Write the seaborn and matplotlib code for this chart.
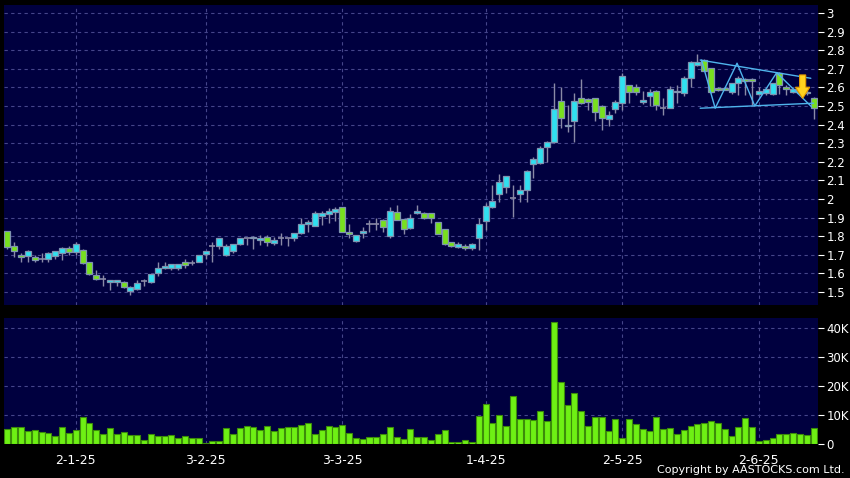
"""
daily candlestick chart with volume panel, AASTOCKS style
"""

import matplotlib
matplotlib.use("Agg")
import matplotlib.pyplot as plt
from matplotlib.patches import FancyArrow
import seaborn as sns
import pandas as pd

# daily prices, one value per trading day (mid Dec 2024 to mid Jun 2025)
open_prices = [
    1.828, 1.747, 1.697, 1.694, 1.687, 1.676, 1.676, 1.695, 1.708, 1.735,
    1.717, 1.726, 1.660, 1.590, 1.568, 1.554, 1.556, 1.555, 1.506, 1.514,
    1.559, 1.555, 1.604, 1.627, 1.627, 1.627, 1.661, 1.658, 1.663, 1.706,
    1.746, 1.747, 1.697, 1.722, 1.756, 1.789, 1.789, 1.778, 1.794, 1.765,
    1.789, 1.789, 1.789, 1.816, 1.864, 1.857, 1.910, 1.921, 1.932, 1.955,
    1.824, 1.776, 1.816, 1.866, 1.866, 1.887, 1.803, 1.932, 1.892, 1.846,
    1.923, 1.923, 1.923, 1.875, 1.837, 1.767, 1.744, 1.749, 1.735, 1.792,
    1.883, 1.955, 2.025, 2.063, 2.007, 2.025, 2.048, 2.187, 2.192, 2.281,
    2.305, 2.528, 2.390, 2.421, 2.541, 2.540, 2.541, 2.502, 2.432, 2.482,
    2.518, 2.611, 2.600, 2.520, 2.554, 2.582, 2.490, 2.491, 2.574, 2.572,
    2.649, 2.720, 2.747, 2.703, 2.597, 2.597, 2.577, 2.622, 2.644, 2.644,
    2.564, 2.568, 2.564, 2.679, 2.604, 2.574, 2.580, 2.575, 2.541,
]
high_prices = [
    1.830, 1.767, 1.711, 1.726, 1.699, 1.708, 1.713, 1.722, 1.740, 1.747,
    1.769, 1.730, 1.662, 1.618, 1.591, 1.566, 1.566, 1.557, 1.530, 1.565,
    1.570, 1.597, 1.660, 1.660, 1.652, 1.652, 1.677, 1.672, 1.699, 1.722,
    1.770, 1.792, 1.758, 1.758, 1.792, 1.792, 1.800, 1.806, 1.808, 1.794,
    1.819, 1.792, 1.818, 1.896, 1.887, 1.937, 1.935, 1.950, 1.957, 1.957,
    1.864, 1.808, 1.850, 1.888, 1.900, 1.890, 1.955, 1.968, 1.895, 1.920,
    1.968, 1.928, 1.926, 1.878, 1.840, 1.770, 1.770, 1.760, 1.765, 1.896,
    1.977, 2.075, 2.134, 2.125, 2.075, 2.075, 2.155, 2.225, 2.285, 2.310,
    2.625, 2.604, 2.505, 2.568, 2.645, 2.545, 2.545, 2.505, 2.475, 2.530,
    2.676, 2.615, 2.620, 2.583, 2.590, 2.585, 2.541, 2.605, 2.613, 2.660,
    2.740, 2.780, 2.753, 2.705, 2.600, 2.600, 2.625, 2.660, 2.648, 2.648,
    2.600, 2.598, 2.625, 2.685, 2.615, 2.598, 2.590, 2.585, 2.548,
]
low_prices = [
    1.733, 1.687, 1.663, 1.663, 1.663, 1.663, 1.663, 1.680, 1.672, 1.699,
    1.699, 1.651, 1.590, 1.565, 1.532, 1.511, 1.530, 1.522, 1.484, 1.512,
    1.532, 1.550, 1.586, 1.622, 1.620, 1.620, 1.627, 1.645, 1.660, 1.680,
    1.663, 1.730, 1.694, 1.710, 1.752, 1.750, 1.730, 1.755, 1.745, 1.753,
    1.753, 1.747, 1.774, 1.812, 1.824, 1.855, 1.860, 1.870, 1.880, 1.822,
    1.789, 1.770, 1.790, 1.820, 1.835, 1.820, 1.790, 1.885, 1.810, 1.840,
    1.920, 1.890, 1.870, 1.810, 1.750, 1.740, 1.735, 1.725, 1.725, 1.726,
    1.833, 1.950, 1.985, 2.034, 1.905, 1.985, 1.985, 2.111, 2.190, 2.200,
    2.300, 2.380, 2.362, 2.305, 2.510, 2.480, 2.420, 2.371, 2.390, 2.462,
    2.478, 2.514, 2.558, 2.511, 2.500, 2.478, 2.452, 2.488, 2.514, 2.552,
    2.604, 2.715, 2.690, 2.570, 2.580, 2.585, 2.565, 2.559, 2.560, 2.505,
    2.560, 2.560, 2.560, 2.565, 2.560, 2.570, 2.565, 2.560, 2.430,
]
close_prices = [
    1.744, 1.722, 1.687, 1.720, 1.674, 1.676, 1.708, 1.720, 1.735, 1.717,
    1.758, 1.658, 1.595, 1.568, 1.568, 1.562, 1.562, 1.528, 1.528, 1.547,
    1.559, 1.595, 1.627, 1.640, 1.649, 1.649, 1.647, 1.658, 1.697, 1.719,
    1.746, 1.790, 1.747, 1.756, 1.789, 1.789, 1.796, 1.789, 1.767, 1.780,
    1.789, 1.789, 1.816, 1.864, 1.876, 1.923, 1.923, 1.934, 1.945, 1.824,
    1.813, 1.806, 1.828, 1.866, 1.866, 1.848, 1.934, 1.887, 1.837, 1.896,
    1.935, 1.896, 1.896, 1.813, 1.756, 1.747, 1.756, 1.735, 1.760, 1.864,
    1.964, 1.991, 2.093, 2.122, 2.007, 2.048, 2.152, 2.213, 2.273, 2.305,
    2.482, 2.434, 2.400, 2.528, 2.515, 2.520, 2.469, 2.434, 2.452, 2.522,
    2.661, 2.574, 2.577, 2.532, 2.577, 2.505, 2.490, 2.590, 2.582, 2.649,
    2.738, 2.737, 2.690, 2.577, 2.586, 2.586, 2.622, 2.649, 2.633, 2.633,
    2.582, 2.591, 2.622, 2.613, 2.591, 2.590, 2.570, 2.568, 2.491,
]
# volume in thousands of shares
volume_k = [
    5.3, 5.9, 5.8, 4.6, 4.8, 4.0, 3.9, 2.6, 5.9, 3.8,
    4.9, 9.4, 7.2, 4.7, 3.3, 5.6, 3.6, 4.0, 3.2, 3.2,
    1.4, 3.6, 2.9, 2.6, 3.2, 2.0, 2.6, 1.9, 1.9, 0.5,
    1.0, 1.2, 5.4, 3.6, 5.4, 6.3, 6.0, 4.9, 6.3, 4.4,
    5.4, 6.0, 5.8, 6.7, 7.2, 3.4, 4.7, 6.2, 5.7, 6.7,
    3.8, 2.2, 1.6, 2.4, 2.4, 3.6, 5.7, 2.5, 1.8, 5.1,
    2.5, 2.4, 1.3, 3.5, 4.7, 0.6, 0.7, 1.4, 0.8, 9.6,
    13.9, 7.1, 9.9, 6.2, 16.5, 8.5, 8.5, 8.2, 11.3, 7.9,
    41.8, 21.2, 13.5, 17.4, 11.2, 6.1, 9.4, 9.4, 4.5, 8.6,
    2.0, 8.6, 6.8, 5.3, 4.5, 9.4, 5.3, 5.6, 3.5, 4.9,
    6.1, 6.8, 7.1, 7.9, 7.3, 5.3, 2.6, 5.9, 8.8, 5.9,
    1.2, 1.4, 1.9, 3.3, 3.4, 3.8, 3.5, 3.2, 5.6,
]

# month start ticks (bar index of first trading day shown)
date_tick_pos = [10, 29, 49, 70, 90, 110]
date_tick_labels = ["2-1-25", "3-2-25", "3-3-25", "1-4-25", "2-5-25", "2-6-25"]
price_ticks = [1.5, 1.6, 1.7, 1.8, 1.9, 2.0, 2.1, 2.2, 2.3, 2.4, 2.5,
               2.6, 2.7, 2.8, 2.9, 3.0]
volume_ticks = [0, 10, 20, 30, 40]

# drawn pattern lines (triangle + zigzag) near the end
upper_line_x = [101.4, 117.6]
upper_line_y = [2.747, 2.649]
lower_line_x = [101.4, 118.0]
lower_line_y = [2.488, 2.515]
zigzag_x = [101.6, 103.6, 106.8, 109.4, 112.6, 117.7]
zigzag_y = [2.747, 2.488, 2.730, 2.500, 2.679, 2.496]
arrow_x = 116.4
arrow_top = 2.667
arrow_tip = 2.541

BG = "#000000"
PANEL = "#00003f"
UP = "#30e0f0"
DOWN = "#78e01e"
EDGE = "#7f93b0"
WICK = "#8a8aa6"
GRID = "#45458a"

sns.set_style("dark", {"axes.facecolor": PANEL, "figure.facecolor": BG})
plt.rcParams["font.family"] = ["DejaVu Sans"]

df = pd.DataFrame({
    "idx": range(len(open_prices)),
    "open": open_prices, "high": high_prices,
    "low": low_prices, "close": close_prices, "vol": volume_k,
})
df["up"] = df["close"] >= df["open"]
df["doji"] = (df["close"] - df["open"]).abs() < 0.001

fig = plt.figure(figsize=(8.5, 4.78), dpi=100)
fig.patch.set_facecolor(BG)
ax = fig.add_axes([4 / 850, 1 - 305 / 478, 814 / 850, 300 / 478])
axv = fig.add_axes([4 / 850, 1 - 444 / 478, 814 / 850, 126 / 478])

for a in (ax, axv):
    a.set_facecolor(PANEL)
    for s in a.spines.values():
        s.set_visible(False)
    a.set_xlim(-0.5, 118.65)
    a.set_xticks(date_tick_pos)
    a.grid(True, axis="both", color=GRID, linestyle=(0, (3, 3)), linewidth=0.8)
    a.set_axisbelow(True)
    a.yaxis.tick_right()
    a.tick_params(axis="y", colors="white", labelsize=8.5, length=4, width=0.8,
                  direction="out", pad=2, labelcolor="white")

# candles
ax.vlines(df["idx"], df["low"], df["high"], color=WICK, linewidth=1, zorder=2)
body = df[~df["doji"]]
ax.bar(body["idx"], (body["close"] - body["open"]).abs(),
       bottom=body[["open", "close"]].min(axis=1), width=0.88,
       color=[UP if u else DOWN for u in body["up"]],
       edgecolor=EDGE, linewidth=0.9, zorder=3)
doji = df[df["doji"]]
ax.hlines(doji["close"], doji["idx"] - 0.44, doji["idx"] + 0.44,
          color=WICK, linewidth=1.2, zorder=3)

# pattern lines
for xs, ys in [(upper_line_x, upper_line_y), (lower_line_x, lower_line_y),
               (zigzag_x, zigzag_y)]:
    ax.plot(xs, ys, color="#4fb4ec", linewidth=1, zorder=4)

ax.add_patch(FancyArrow(arrow_x, arrow_top, 0, arrow_tip - arrow_top,
                        width=0.9, head_width=2.1, head_length=0.06,
                        length_includes_head=True, facecolor="#ffd21e",
                        edgecolor="#e49a00", linewidth=0.8, zorder=5))

ax.set_ylim(1.430, 3.043)
ax.set_yticks(price_ticks)
ax.set_yticklabels([f"{v:g}" for v in price_ticks])
ax.tick_params(axis="x", length=0, labelbottom=False)

# volume bars
sns.barplot(data=df, x="idx", y="vol", native_scale=True, width=0.88,
            color="#6ef014", saturation=1, edgecolor="#3c8c0a", linewidth=0.8,
            ax=axv, zorder=3)
axv.set_xlim(-0.5, 118.65)
axv.set_ylim(0, 43.3)
axv.set_yticks(volume_ticks)
axv.set_yticklabels(["0"] + [f"{v}K" for v in volume_ticks[1:]])
axv.set_xticks(date_tick_pos)
axv.set_xticklabels(date_tick_labels)
axv.set_xlabel("")
axv.set_ylabel("")
axv.tick_params(axis="x", colors="white", labelsize=9, length=3, width=0.8,
                pad=4, labelcolor="white")

fig.text(845 / 850, 1 - 470 / 478, "Copyright by AASTOCKS.com Ltd.",
         color="white", fontsize=8, ha="right", va="center")

fig.savefig("out.png", dpi=100, facecolor=BG)
plt.close(fig)
